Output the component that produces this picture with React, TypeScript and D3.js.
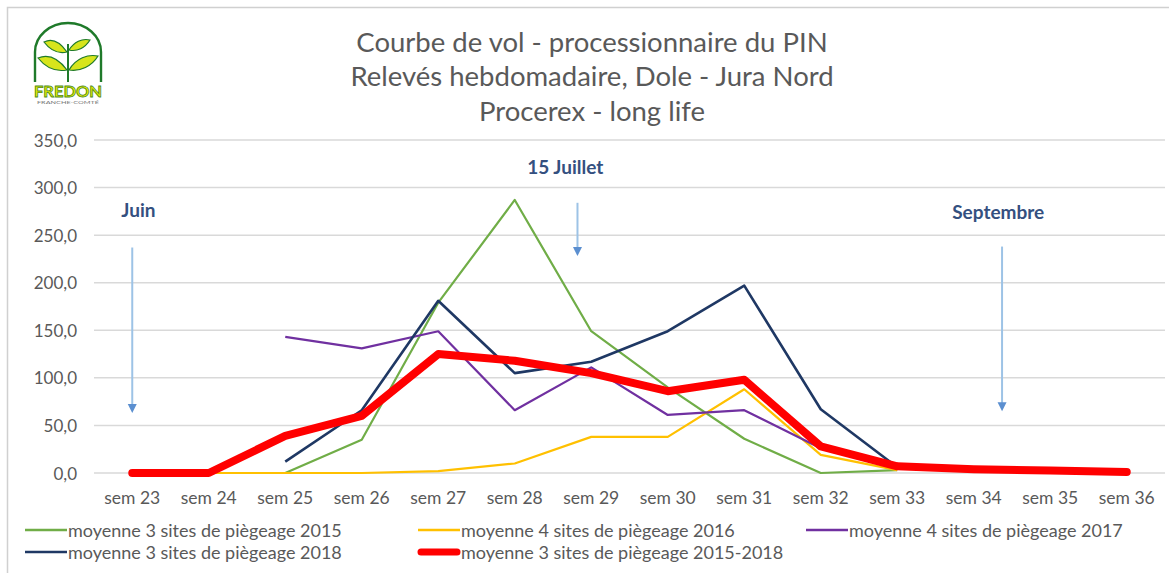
import { useEffect, useRef } from 'react'
import * as d3 from 'd3'

const weeks = ['sem 23', 'sem 24', 'sem 25', 'sem 26', 'sem 27', 'sem 28', 'sem 29', 'sem 30', 'sem 31', 'sem 32', 'sem 33', 'sem 34', 'sem 35', 'sem 36']

// one value per week, null = no record
const moy2015 = [0, 0, 0, 35, 179, 287, 149, 90, 36, 0, 3, null, null, null]
const moy2016 = [0, 0, 0, 0, 2, 10, 38, 38, 88, 19, 3, null, null, null]
const moy2017 = [null, null, 143, 131, 149, 66, 111, 61, 66, 26, 5, null, null, null]
const moy2018 = [null, null, 12, 66, 181, 105, 117, 149, 197, 67, 6, null, null, null]
const moyAll = [0, 0, 39, 60, 125, 118, 105, 86, 98, 28, 7, 4, 2.5, 1]

const yTicks = [0, 50, 100, 150, 200, 250, 300, 350]

const titleLines = ['Courbe de vol - processionnaire du PIN', 'Relevés hebdomadaire, Dole - Jura Nord', 'Procerex - long life']

// annotations in chart units: pos = week index (fractional), values on the y scale
const annotations = [
  { label: 'Juin', arrowPos: 0, textPos: 0.08, textV: 277, from: 237, to: 63 },
  { label: '15 Juillet', arrowPos: 5.82, textPos: 5.66, textV: 322, from: 284, to: 228 },
  { label: 'Septembre', arrowPos: 11.37, textPos: 11.32, textV: 275, from: 238, to: 65 },
]

type Series = { name: string; values: (number | null)[]; color: string; width: number }

const series: Series[] = [
  { name: 'moyenne 3 sites de piègeage 2015', values: moy2015, color: '#70ad47', width: 2.2 },
  { name: 'moyenne 4 sites de piègeage 2016', values: moy2016, color: '#ffc000', width: 2.2 },
  { name: 'moyenne 4 sites de piègeage 2017', values: moy2017, color: '#7030a0', width: 2.2 },
  { name: 'moyenne 3 sites de piègeage 2018', values: moy2018, color: '#1f3864', width: 2.6 },
  { name: 'moyenne 3 sites de piègeage 2015-2018', values: moyAll, color: '#ff0000', width: 8 },
]

const W = 1169
const H = 573
const FONT = 'Lato, "Noto Sans", sans-serif'
const GREY = '#595959'

function drawLogo(g: d3.Selection<SVGGElement, unknown, null, undefined>) {
  const dark = '#1f7a2a'
  const leaf = '#d7e51c'
  g.append('path')
    .attr('d', 'M35,82 L35,52 A33,29 0 0 1 101,52 L101,82')
    .attr('fill', 'none')
    .attr('stroke', dark)
    .attr('stroke-width', 2.4)
  g.append('line').attr('x1', 68).attr('y1', 44).attr('x2', 68).attr('y2', 82).attr('stroke', dark).attr('stroke-width', 2)
  const leaves = [
    'M67,52 C60,42 52,38 44,42 C50,50 58,54 67,52 Z',
    'M69,50 C74,42 82,38 90,40 C85,48 77,52 69,50 Z',
    'M67,70 C58,58 48,54 38,58 C46,68 56,72 67,70 Z',
    'M69,70 C76,58 88,54 98,56 C92,66 80,72 69,70 Z',
  ]
  leaves.forEach((d) => {
    g.append('path').attr('d', d).attr('fill', leaf).attr('stroke', dark).attr('stroke-width', 1.2)
  })
  g.append('text')
    .attr('x', 68)
    .attr('y', 97)
    .attr('text-anchor', 'middle')
    .attr('font-family', FONT)
    .attr('font-weight', 700)
    .attr('font-size', 16)
    .attr('textLength', 68)
    .attr('lengthAdjust', 'spacingAndGlyphs')
    .attr('fill', '#e8ef00')
    .attr('stroke', '#4c8a1e')
    .attr('stroke-width', 0.8)
    .text('FREDON')
  g.append('text')
    .attr('x', 68)
    .attr('y', 104)
    .attr('text-anchor', 'middle')
    .attr('font-family', FONT)
    .attr('font-size', 4)
    .attr('textLength', 62)
    .attr('lengthAdjust', 'spacingAndGlyphs')
    .attr('fill', '#777')
    .text('FRANCHE-COMTÉ')
}

export default function App() {
  const ref = useRef<SVGSVGElement | null>(null)

  useEffect(() => {
    const svg = d3.select(ref.current)
    svg.selectAll('*').remove()
    svg.attr('width', W).attr('height', H)

    svg.append('rect').attr('width', W).attr('height', H).attr('fill', '#fff')
    // chart frame (only top/left visible in the crop)
    svg.append('path').attr('d', `M7.5,${H} L7.5,7.5 L${W},7.5`).attr('fill', 'none').attr('stroke', '#d0d0d0').attr('stroke-width', 1.5)

    const x = d3.scaleBand<string>().domain(weeks).range([94, 1165])
    const y = d3.scaleLinear().domain([0, 350]).range([473, 140])
    const bw = x.bandwidth()
    const cx = (w: string) => (x(w) ?? 0) + bw / 2
    const posX = (p: number) => cx(weeks[0]) + p * bw

    drawLogo(svg.append('g'))

    // title
    svg.append('g')
      .selectAll('text')
      .data(titleLines)
      .enter()
      .append('text')
      .attr('x', 592)
      .attr('y', (_d, i) => 41 + i * 34.5)
      .attr('text-anchor', 'middle')
      .attr('dominant-baseline', 'central')
      .attr('font-family', FONT)
      .attr('font-size', 27.5)
      .attr('fill', GREY)
      .text((d) => d)

    // grid + y labels
    const fmt = (v: number) => d3.format('.1f')(v).replace('.', ',')
    const grid = svg.append('g')
    yTicks.forEach((t) => {
      grid.append('line')
        .attr('x1', 94)
        .attr('x2', 1165)
        .attr('y1', y(t))
        .attr('y2', y(t))
        .attr('stroke', '#d9d9d9')
        .attr('stroke-width', 1.5)
      grid.append('text')
        .attr('x', 77)
        .attr('y', y(t))
        .attr('text-anchor', 'end')
        .attr('dominant-baseline', 'central')
        .attr('font-family', FONT)
        .attr('font-size', 17)
        .attr('fill', GREY)
        .text(fmt(t))
    })

    // x labels
    svg.append('g')
      .selectAll('text')
      .data(weeks)
      .enter()
      .append('text')
      .attr('x', (d) => cx(d))
      .attr('y', 497)
      .attr('text-anchor', 'middle')
      .attr('dominant-baseline', 'central')
      .attr('font-family', FONT)
      .attr('font-size', 17.5)
      .attr('fill', GREY)
      .text((d) => d)

    // month annotations
    const ann = svg.append('g')
    annotations.forEach((a) => {
      const ax = posX(a.arrowPos)
      const tip = y(a.to)
      ann.append('line')
        .attr('x1', ax)
        .attr('x2', ax)
        .attr('y1', y(a.from))
        .attr('y2', tip - 7)
        .attr('stroke', '#9dc3e6')
        .attr('stroke-width', 2)
      ann.append('path')
        .attr('d', `M${ax - 4.5},${tip - 9} L${ax + 4.5},${tip - 9} L${ax},${tip} Z`)
        .attr('fill', '#5b8fd0')
      ann.append('text')
        .attr('x', posX(a.textPos))
        .attr('y', y(a.textV))
        .attr('text-anchor', 'middle')
        .attr('dominant-baseline', 'central')
        .attr('font-family', FONT)
        .attr('font-weight', 700)
        .attr('font-size', 19)
        .attr('fill', '#34507f')
        .text(a.label)
    })

    // series lines
    const line = d3
      .line<number | null>()
      .defined((d) => d !== null)
      .x((_d, i) => cx(weeks[i]))
      .y((d) => y(d as number))

    const lines = svg.append('g')
    series.forEach((s) => {
      lines.append('path')
        .datum(s.values)
        .attr('d', line)
        .attr('fill', 'none')
        .attr('stroke', s.color)
        .attr('stroke-width', s.width)
        .attr('stroke-linejoin', 'round')
        .attr('stroke-linecap', s.width > 4 ? 'round' : 'butt')
    })

    // legend
    const legX = [25, 418, 806]
    const legend = svg.append('g')
    series.forEach((s, i) => {
      const lx = legX[i % 3]
      const ly = 530 + Math.floor(i / 3) * 22
      legend.append('line')
        .attr('x1', lx + (s.width > 4 ? 3 : 0))
        .attr('x2', lx + 42 - (s.width > 4 ? 3 : 0))
        .attr('y1', ly)
        .attr('y2', ly)
        .attr('stroke', s.color)
        .attr('stroke-width', s.width > 4 ? 7 : 2.6)
        .attr('stroke-linecap', s.width > 4 ? 'round' : 'butt')
      legend.append('text')
        .attr('x', lx + 43)
        .attr('y', ly)
        .attr('dominant-baseline', 'central')
        .attr('font-family', FONT)
        .attr('font-size', 18)
        .attr('fill', GREY)
        .text(s.name)
    })
  }, [])

  return <svg ref={ref} style={{ position: 'absolute', left: 0, top: 0, display: 'block' }} />
}
